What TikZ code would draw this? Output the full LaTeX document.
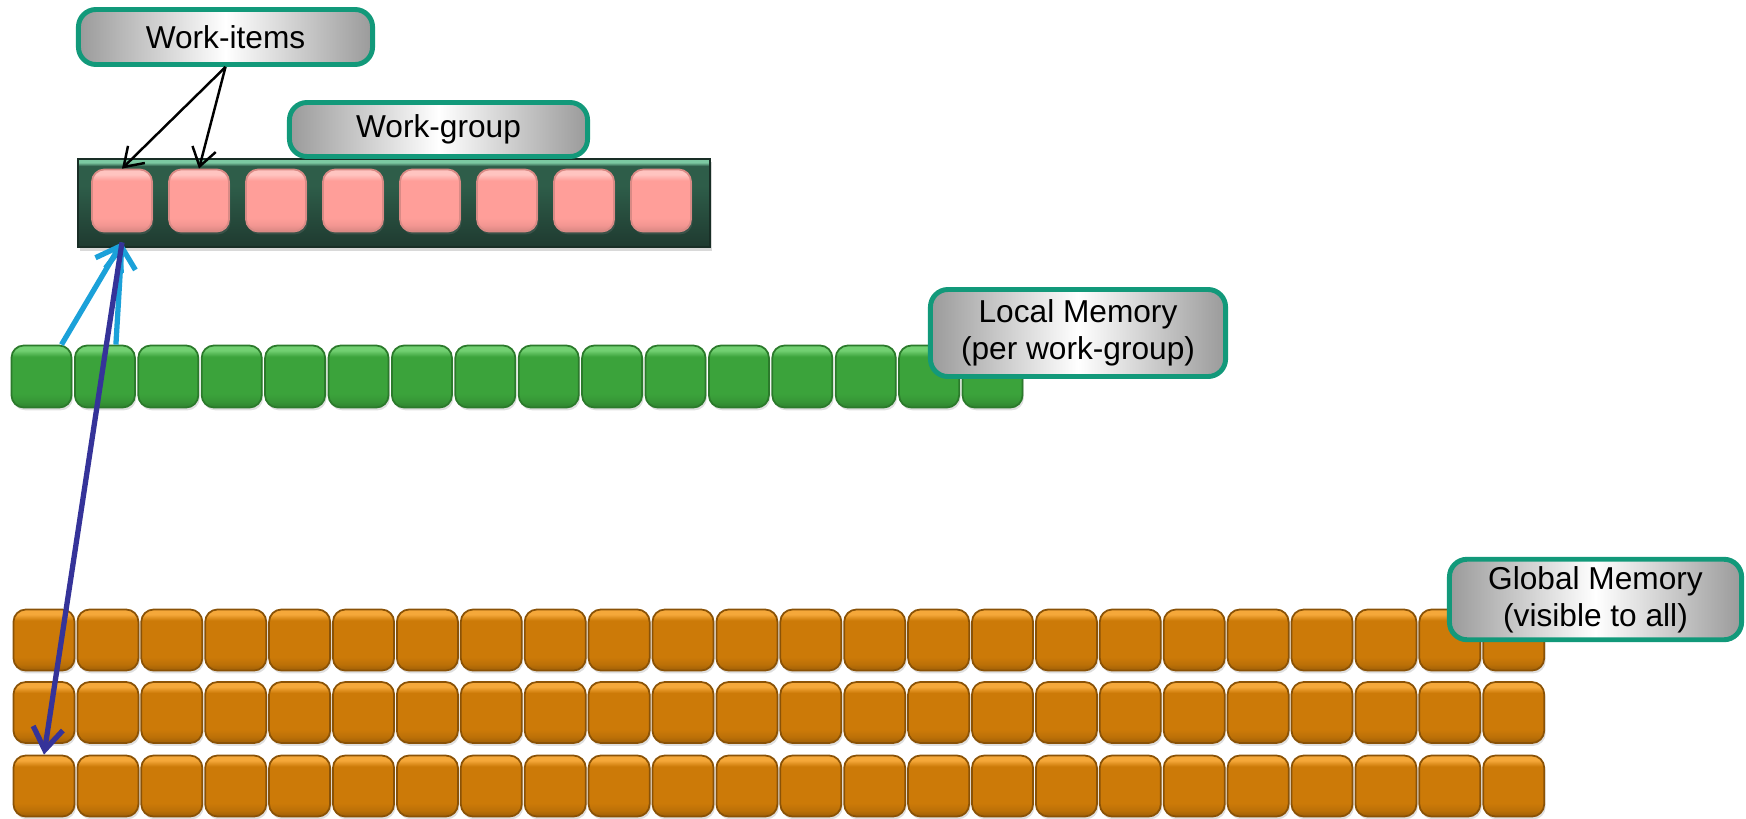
\documentclass[tikz,border=0pt]{standalone}
\usepackage{fontspec}
\setmainfont{Liberation Sans}
\usepackage{tikz}
\usetikzlibrary{arrows.meta, positioning, shadows}

\definecolor{tagborder}{HTML}{12997A}
\definecolor{tagside}{HTML}{9A9A9A}
\definecolor{itembase}{HTML}{FF9E99}
\definecolor{itemtop}{HTML}{FFC4C0}
\definecolor{itemedge}{HTML}{D98A85}
\definecolor{localbase}{HTML}{3BA33B}
\definecolor{localtop}{HTML}{72D072}
\definecolor{localedge}{HTML}{2B7A2B}
\definecolor{globalbase}{HTML}{CC7A08}
\definecolor{globaltop}{HTML}{F5A83A}
\definecolor{globaledge}{HTML}{8A5206}
\definecolor{groupdark}{HTML}{1F3A30}
\definecolor{groupmid}{HTML}{2E5D49}
\definecolor{grouplight}{HTML}{7CC9A2}
\definecolor{fetchcyan}{HTML}{1BA1D9}
\definecolor{globalblue}{HTML}{353399}

% bevelled fills: 25bp = bottom edge, 75bp = top edge of the shape
\pgfdeclareverticalshading{itemshade}{100bp}{color(0bp)=(itembase!85!black); color(25bp)=(itembase!85!black);
  color(30bp)=(itembase!95!black); color(36bp)=(itembase); color(66bp)=(itembase); color(71bp)=(itemtop); color(75bp)=(itemtop); color(100bp)=(itemtop)}
\pgfdeclareverticalshading{localshade}{100bp}{color(0bp)=(localbase!80!black); color(25bp)=(localbase!80!black);
  color(30bp)=(localbase!92!black); color(36bp)=(localbase); color(66bp)=(localbase); color(71bp)=(localtop); color(75bp)=(localtop); color(100bp)=(localtop)}
\pgfdeclareverticalshading{globalshade}{100bp}{color(0bp)=(globalbase!78!black); color(25bp)=(globalbase!78!black);
  color(30bp)=(globalbase!92!black); color(36bp)=(globalbase); color(66bp)=(globalbase); color(71bp)=(globaltop); color(75bp)=(globaltop); color(100bp)=(globaltop)}
\pgfdeclareverticalshading{groupshade}{100bp}{color(0bp)=(groupdark); color(25bp)=(groupdark);
  color(60bp)=(groupmid); color(71bp)=(groupmid); color(73bp)=(grouplight); color(75bp)=(grouplight); color(100bp)=(grouplight)}

\begin{document}
\begin{tikzpicture}[
  x=0.01cm, y=-0.01cm,
  font=\fontsize{9}{10.5}\selectfont,
  >=Latex,
  tag/.style={
    draw=tagborder,
    line width=1.4pt,
    rounded corners=5pt,
    left color=tagside, right color=tagside, middle color=white,
    align=center,
    inner sep=2pt
  },
  cell/.style={
    rounded corners=3.5pt,
    line width=0.5pt,
    inner sep=0pt,
    drop shadow={shadow xshift=0.4pt, shadow yshift=-0.8pt, opacity=0.25}
  },
  itemcell/.style={
    cell, draw=itemedge, shading=itemshade,
    minimum width=0.6cm, minimum height=0.62cm
  },
  localcell/.style={
    cell, draw=localedge, shading=localshade,
    minimum width=0.6cm, minimum height=0.62cm
  },
  globalcell/.style={
    cell, draw=globaledge, shading=globalshade,
    minimum width=0.61cm, minimum height=0.61cm
  },
  groupbar/.style={
    draw=groupdark!80!black, shading=groupshade,
    minimum width=6.32cm, minimum height=0.88cm,
    drop shadow={shadow xshift=0.6pt, shadow yshift=-1pt, opacity=0.3}
  },
  pointer/.style={-{Straight Barb[length=1.8mm, width=2.4mm]}, line width=0.7pt},
  fetch/.style={-{Straight Barb[length=2.2mm, width=3mm]}, line width=1.5pt, color=fetchcyan},
  globalline/.style={-{Straight Barb[length=2.2mm, width=3mm]}, line width=1.5pt, color=globalblue}
]

\useasboundingbox (0,0) rectangle (1746,818);

% Work-group with its work-items.
\node[groupbar] (wgbar) at (394,203) {};
\foreach \i in {1,...,8}
  \node[itemcell] (item\i) at ({122+77*(\i-1)},200.5) {};

% Local memory row.
\foreach \i in {1,...,16}
  \node[localcell] (lm\i) at ({41.5+63.4*(\i-1)},376.5) {};

% Global memory, three rows.
\foreach \r/\y in {1/640,2/712.5,3/786}
  \foreach \c in {1,...,24}
    \node[globalcell] (gm\r-\c) at ({44+63.9*(\c-1)},\y) {};

% Labels.
\node[tag, minimum width=2.94cm, minimum height=0.55cm] (witems) at (225.5,37) {Work-items};
\node[tag, minimum width=2.98cm, minimum height=0.54cm] (wgroup) at (438.5,129.5) {Work-group};
\node[tag, minimum width=2.95cm, minimum height=0.87cm] (lmem) at (1078,333) {Local Memory\\(per work-group)};
\node[tag, minimum width=2.92cm, minimum height=0.80cm] (gmem) at (1595.5,599.5) {Global Memory\\(visible to all)};

% Arrows.
\draw[pointer] (witems.south) -- (item1.north);
\draw[pointer] (witems.south) -- (item2.north);
\draw[fetch] ([xshift=0.2cm]lm1.north) -- ([yshift=-0.1cm]item1.south);
\draw[fetch] ([xshift=0.11cm]lm2.north) -- ([yshift=-0.1cm]item1.south);
\draw[globalline] ([yshift=-0.1cm]item1.south) -- (gm3-1.north);

\end{tikzpicture}
\end{document}
